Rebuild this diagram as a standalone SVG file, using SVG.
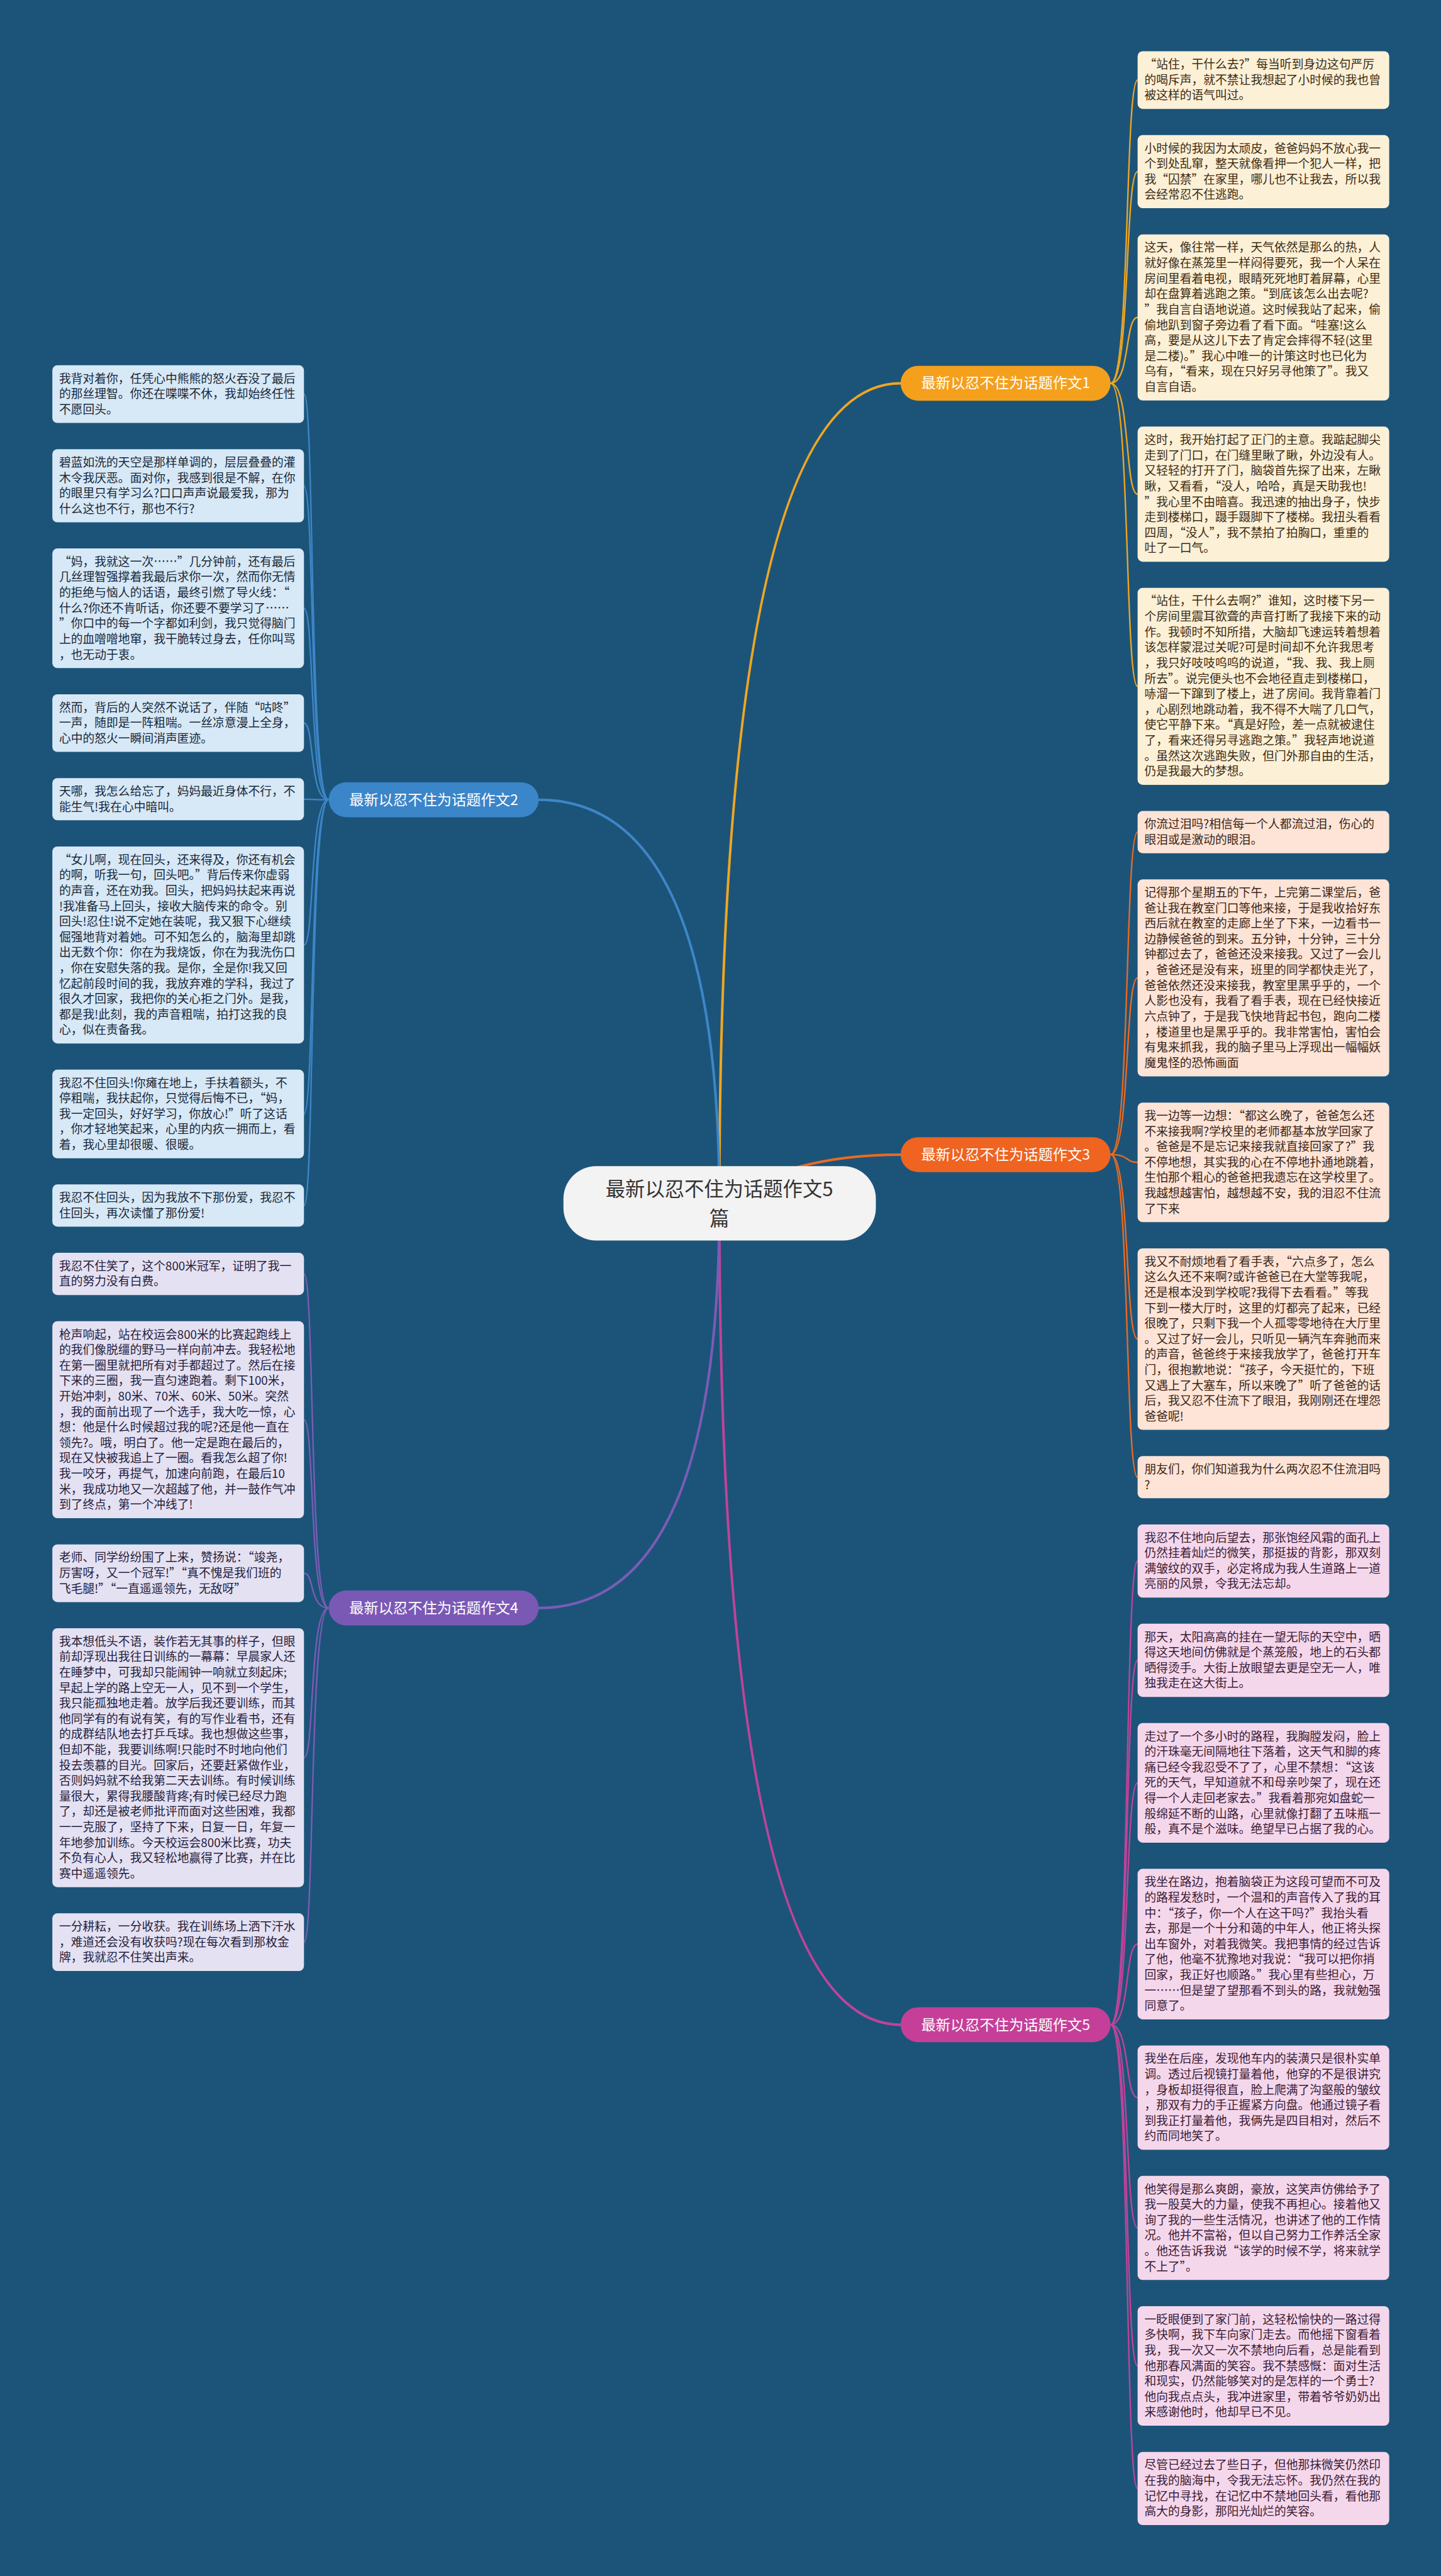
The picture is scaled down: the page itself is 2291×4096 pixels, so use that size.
<svg xmlns="http://www.w3.org/2000/svg" width="2291" height="4096" viewBox="0 0 2291 4096">
<style>
.t{font-family:"Noto Sans CJK SC","Noto Sans",sans-serif;font-size:21px}
.b1 rect{fill:#fcf0d6}.b1 text{fill:#3d2b12}
.b3 rect{fill:#fde4d6}.b3 text{fill:#3b2416}
.b5 rect{fill:#f5d7ec}.b5 text{fill:#3a1b33}
.b2 rect{fill:#d7e8f6}.b2 text{fill:#17283a}
.b4 rect{fill:#e4e1f3}.b4 text{fill:#241d3b}
.pill text{font-family:"Noto Sans CJK SC","Noto Sans",sans-serif;font-size:26px;fill:#ffffff;text-anchor:middle}
.conn path{fill:none;stroke-linecap:round}
.m{stroke-width:4.5}.l{stroke-width:2.6}
.k1{stroke:#f0a623}.k3{stroke:#ec6a22}.k5{stroke:#c0439a}.k2{stroke:#3d86c8}.k4{stroke:#7b5cb6}
</style>
<rect x="0" y="0" width="2291" height="4096" fill="#1c5479"/>
<g transform="scale(0.894922)">
<g id="connectors" class="conn">
<path class="m k1" d="M1278,2138 Q1278,681 1600,681"/>
<path class="m k3" d="M1278,2138 Q1400,2051.5 1600,2051.5"/>
<path class="m k5" d="M1278,2138 Q1278,3597.5 1600,3597.5"/>
<path class="m k2" d="M1278,2138 Q1278,1421 957,1421"/>
<path class="m k4" d="M1278,2138 Q1278,2857 957,2857"/>
<path class="l k1" d="M1973,681 C2008,681 1998,142.25 2021,142.25"/>
<path class="l k1" d="M1973,681 C2008,681 1998,305 2021,305"/>
<path class="l k1" d="M1973,681 C2008,681 1998,564 2021,564"/>
<path class="l k1" d="M1973,681 C2008,681 1998,878 2021,878"/>
<path class="l k1" d="M1973,681 C2008,681 1998,1219.5 2021,1219.5"/>
<path class="l k3" d="M1973,2051.5 C2008,2051.5 1998,1478.5 2021,1478.5"/>
<path class="l k3" d="M1973,2051.5 C2008,2051.5 1998,1737.5 2021,1737.5"/>
<path class="l k3" d="M1973,2051.5 C2008,2051.5 1998,2065.25 2021,2065.25"/>
<path class="l k3" d="M1973,2051.5 C2008,2051.5 1998,2379.25 2021,2379.25"/>
<path class="l k3" d="M1973,2051.5 C2008,2051.5 1998,2624.5 2021,2624.5"/>
<path class="l k5" d="M1973,3597.5 C2008,3597.5 1998,2773.5 2021,2773.5"/>
<path class="l k5" d="M1973,3597.5 C2008,3597.5 1998,2950 2021,2950"/>
<path class="l k5" d="M1973,3597.5 C2008,3597.5 1998,3167.75 2021,3167.75"/>
<path class="l k5" d="M1973,3597.5 C2008,3597.5 1998,3454.25 2021,3454.25"/>
<path class="l k5" d="M1973,3597.5 C2008,3597.5 1998,3727 2021,3727"/>
<path class="l k5" d="M1973,3597.5 C2008,3597.5 1998,3958.5 2021,3958.5"/>
<path class="l k5" d="M1973,3597.5 C2008,3597.5 1998,4203.75 2021,4203.75"/>
<path class="l k5" d="M1973,3597.5 C2008,3597.5 1998,4421.5 2021,4421.5"/>
<path class="l k2" d="M584,1421 C549,1421 559,700.25 540,700.25"/>
<path class="l k2" d="M584,1421 C549,1421 559,863 540,863"/>
<path class="l k2" d="M584,1421 C549,1421 559,1080.75 540,1080.75"/>
<path class="l k2" d="M584,1421 C549,1421 559,1284.75 540,1284.75"/>
<path class="l k2" d="M584,1421 C549,1421 559,1420 540,1420"/>
<path class="l k2" d="M584,1421 C549,1421 559,1679 540,1679"/>
<path class="l k2" d="M584,1421 C549,1421 559,1979.25 540,1979.25"/>
<path class="l k2" d="M584,1421 C549,1421 559,2142 540,2142"/>
<path class="l k4" d="M584,2857 C549,2857 559,2263.5 540,2263.5"/>
<path class="l k4" d="M584,2857 C549,2857 559,2522.5 540,2522.5"/>
<path class="l k4" d="M584,2857 C549,2857 559,2795.25 540,2795.25"/>
<path class="l k4" d="M584,2857 C549,2857 559,3123 540,3123"/>
<path class="l k4" d="M584,2857 C549,2857 559,3450.75 540,3450.75"/>
</g>

<g id="center">
<rect x="1001" y="2072" width="555" height="132" rx="58" fill="#f3f3f3"/>
<text x="1278" y="2125" font-family="Noto Sans CJK SC, Noto Sans, sans-serif" font-size="35" fill="#333333" text-anchor="middle"><tspan x="1278">最新以忍不住为话题作文5</tspan><tspan x="1278" dy="53">篇</tspan></text>
</g>

<g id="branch1" class="pill"><rect x="1600" y="650" width="373" height="62" rx="31" fill="#f5a01c"/><text x="1786.5" y="690">最新以忍不住为话题作文1</text></g>
<g id="branch3" class="pill"><rect x="1600" y="2020.5" width="373" height="62" rx="31" fill="#ef6420"/><text x="1786.5" y="2060.5">最新以忍不住为话题作文3</text></g>
<g id="branch5" class="pill"><rect x="1600" y="3566.5" width="373" height="62" rx="31" fill="#c53f98"/><text x="1786.5" y="3606.5">最新以忍不住为话题作文5</text></g>
<g id="branch2" class="pill"><rect x="584" y="1390" width="373" height="62" rx="31" fill="#3b85c9"/><text x="770.5" y="1430">最新以忍不住为话题作文2</text></g>
<g id="branch4" class="pill"><rect x="584" y="2826" width="373" height="62" rx="31" fill="#7a59b5"/><text x="770.5" y="2866">最新以忍不住为话题作文4</text></g>

<g id="n1a" class="b1"><rect x="2021" y="91" width="447" height="102.5" rx="9"/><text class="t" x="2033" y="122"><tspan x="2033">“站住，干什么去?”每当听到身边这句严厉</tspan><tspan x="2033" dy="27.5">的喝斥声，就不禁让我想起了小时候的我也曾</tspan><tspan x="2033" dy="27.5">被这样的语气叫过。</tspan></text></g>
<g id="n1b" class="b1"><rect x="2021" y="240" width="447" height="130" rx="9"/><text class="t" x="2033" y="271"><tspan x="2033">小时候的我因为太顽皮，爸爸妈妈不放心我一</tspan><tspan x="2033" dy="27.5">个到处乱窜，整天就像看押一个犯人一样，把</tspan><tspan x="2033" dy="27.5">我“囚禁”在家里，哪儿也不让我去，所以我</tspan><tspan x="2033" dy="27.5">会经常忍不住逃跑。</tspan></text></g>
<g id="n1c" class="b1"><rect x="2021" y="416.5" width="447" height="295" rx="9"/><text class="t" x="2033" y="447.5"><tspan x="2033">这天，像往常一样，天气依然是那么的热，人</tspan><tspan x="2033" dy="27.5">就好像在蒸笼里一样闷得要死，我一个人呆在</tspan><tspan x="2033" dy="27.5">房间里看着电视，眼睛死死地盯着屏幕，心里</tspan><tspan x="2033" dy="27.5">却在盘算着逃跑之策。“到底该怎么出去呢?</tspan><tspan x="2033" dy="27.5">”我自言自语地说道。这时候我站了起来，偷</tspan><tspan x="2033" dy="27.5">偷地趴到窗子旁边看了看下面。“哇塞!这么</tspan><tspan x="2033" dy="27.5">高，要是从这儿下去了肯定会摔得不轻(这里</tspan><tspan x="2033" dy="27.5">是二楼)。”我心中唯一的计策这时也已化为</tspan><tspan x="2033" dy="27.5">乌有，“看来，现在只好另寻他策了”。我又</tspan><tspan x="2033" dy="27.5">自言自语。</tspan></text></g>
<g id="n1d" class="b1"><rect x="2021" y="758" width="447" height="240" rx="9"/><text class="t" x="2033" y="789"><tspan x="2033">这时，我开始打起了正门的主意。我踮起脚尖</tspan><tspan x="2033" dy="27.5">走到了门口，在门缝里瞅了瞅，外边没有人。</tspan><tspan x="2033" dy="27.5">又轻轻的打开了门，脑袋首先探了出来，左瞅</tspan><tspan x="2033" dy="27.5">瞅，又看看，“没人，哈哈，真是天助我也!</tspan><tspan x="2033" dy="27.5">”我心里不由暗喜。我迅速的抽出身子，快步</tspan><tspan x="2033" dy="27.5">走到楼梯口，蹑手蹑脚下了楼梯。我扭头看看</tspan><tspan x="2033" dy="27.5">四周，“没人”，我不禁拍了拍胸口，重重的</tspan><tspan x="2033" dy="27.5">吐了一口气。</tspan></text></g>
<g id="n1e" class="b1"><rect x="2021" y="1044.5" width="447" height="350" rx="9"/><text class="t" x="2033" y="1075.5"><tspan x="2033">“站住，干什么去啊?”谁知，这时楼下另一</tspan><tspan x="2033" dy="27.5">个房间里震耳欲聋的声音打断了我接下来的动</tspan><tspan x="2033" dy="27.5">作。我顿时不知所措，大脑却飞速运转着想着</tspan><tspan x="2033" dy="27.5">该怎样蒙混过关呢?可是时间却不允许我思考</tspan><tspan x="2033" dy="27.5">，我只好吱吱呜呜的说道，“我、我、我上厕</tspan><tspan x="2033" dy="27.5">所去”。说完便头也不会地径直走到楼梯口，</tspan><tspan x="2033" dy="27.5">哧溜一下蹿到了楼上，进了房间。我背靠着门</tspan><tspan x="2033" dy="27.5">，心剧烈地跳动着，我不得不大喘了几口气，</tspan><tspan x="2033" dy="27.5">使它平静下来。“真是好险，差一点就被逮住</tspan><tspan x="2033" dy="27.5">了，看来还得另寻逃跑之策。”我轻声地说道</tspan><tspan x="2033" dy="27.5">。虽然这次逃跑失败，但门外那自由的生活，</tspan><tspan x="2033" dy="27.5">仍是我最大的梦想。</tspan></text></g>

<g id="n3a" class="b3"><rect x="2021" y="1441" width="447" height="75" rx="9"/><text class="t" x="2033" y="1472"><tspan x="2033">你流过泪吗?相信每一个人都流过泪，伤心的</tspan><tspan x="2033" dy="27.5">眼泪或是激动的眼泪。</tspan></text></g>
<g id="n3b" class="b3"><rect x="2021" y="1562.5" width="447" height="350" rx="9"/><text class="t" x="2033" y="1593.5"><tspan x="2033">记得那个星期五的下午，上完第二课堂后，爸</tspan><tspan x="2033" dy="27.5">爸让我在教室门口等他来接，于是我收拾好东</tspan><tspan x="2033" dy="27.5">西后就在教室的走廊上坐了下来，一边看书一</tspan><tspan x="2033" dy="27.5">边静候爸爸的到来。五分钟，十分钟，三十分</tspan><tspan x="2033" dy="27.5">钟都过去了，爸爸还没来接我。又过了一会儿</tspan><tspan x="2033" dy="27.5">，爸爸还是没有来，班里的同学都快走光了，</tspan><tspan x="2033" dy="27.5">爸爸依然还没来接我，教室里黑乎乎的，一个</tspan><tspan x="2033" dy="27.5">人影也没有，我看了看手表，现在已经快接近</tspan><tspan x="2033" dy="27.5">六点钟了，于是我飞快地背起书包，跑向二楼</tspan><tspan x="2033" dy="27.5">，楼道里也是黑乎乎的。我非常害怕，害怕会</tspan><tspan x="2033" dy="27.5">有鬼来抓我，我的脑子里马上浮现出一幅幅妖</tspan><tspan x="2033" dy="27.5">魔鬼怪的恐怖画面</tspan></text></g>
<g id="n3c" class="b3"><rect x="2021" y="1959" width="447" height="212.5" rx="9"/><text class="t" x="2033" y="1990"><tspan x="2033">我一边等一边想：“都这么晚了，爸爸怎么还</tspan><tspan x="2033" dy="27.5">不来接我啊?学校里的老师都基本放学回家了</tspan><tspan x="2033" dy="27.5">。爸爸是不是忘记来接我就直接回家了?”我</tspan><tspan x="2033" dy="27.5">不停地想，其实我的心在不停地扑通地跳着，</tspan><tspan x="2033" dy="27.5">生怕那个粗心的爸爸把我遗忘在这学校里了。</tspan><tspan x="2033" dy="27.5">我越想越害怕，越想越不安，我的泪忍不住流</tspan><tspan x="2033" dy="27.5">了下来</tspan></text></g>
<g id="n3d" class="b3"><rect x="2021" y="2218" width="447" height="322.5" rx="9"/><text class="t" x="2033" y="2249"><tspan x="2033">我又不耐烦地看了看手表，“六点多了，怎么</tspan><tspan x="2033" dy="27.5">这么久还不来啊?或许爸爸已在大堂等我呢，</tspan><tspan x="2033" dy="27.5">还是根本没到学校呢?我得下去看看。”等我</tspan><tspan x="2033" dy="27.5">下到一楼大厅时，这里的灯都亮了起来，已经</tspan><tspan x="2033" dy="27.5">很晚了，只剩下我一个人孤零零地待在大厅里</tspan><tspan x="2033" dy="27.5">。又过了好一会儿，只听见一辆汽车奔驰而来</tspan><tspan x="2033" dy="27.5">的声音，爸爸终于来接我放学了，爸爸打开车</tspan><tspan x="2033" dy="27.5">门，很抱歉地说：“孩子，今天挺忙的，下班</tspan><tspan x="2033" dy="27.5">又遇上了大塞车，所以来晚了”听了爸爸的话</tspan><tspan x="2033" dy="27.5">后，我又忍不住流下了眼泪，我刚刚还在埋怨</tspan><tspan x="2033" dy="27.5">爸爸呢!</tspan></text></g>
<g id="n3e" class="b3"><rect x="2021" y="2587" width="447" height="75" rx="9"/><text class="t" x="2033" y="2618"><tspan x="2033">朋友们，你们知道我为什么两次忍不住流泪吗</tspan><tspan x="2033" dy="27.5">?</tspan></text></g>

<g id="n5a" class="b5"><rect x="2021" y="2708.5" width="447" height="130" rx="9"/><text class="t" x="2033" y="2739.5"><tspan x="2033">我忍不住地向后望去，那张饱经风霜的面孔上</tspan><tspan x="2033" dy="27.5">仍然挂着灿烂的微笑，那挺拔的背影，那双刻</tspan><tspan x="2033" dy="27.5">满皱纹的双手，必定将成为我人生道路上一道</tspan><tspan x="2033" dy="27.5">亮丽的风景，令我无法忘却。</tspan></text></g>
<g id="n5b" class="b5"><rect x="2021" y="2885" width="447" height="130" rx="9"/><text class="t" x="2033" y="2916"><tspan x="2033">那天，太阳高高的挂在一望无际的天空中，晒</tspan><tspan x="2033" dy="27.5">得这天地间仿佛就是个蒸笼般，地上的石头都</tspan><tspan x="2033" dy="27.5">晒得烫手。大街上放眼望去更是空无一人，唯</tspan><tspan x="2033" dy="27.5">独我走在这大街上。</tspan></text></g>
<g id="n5c" class="b5"><rect x="2021" y="3061.5" width="447" height="212.5" rx="9"/><text class="t" x="2033" y="3092.5"><tspan x="2033">走过了一个多小时的路程，我胸膛发闷，脸上</tspan><tspan x="2033" dy="27.5">的汗珠毫无间隔地往下落着，这天气和脚的疼</tspan><tspan x="2033" dy="27.5">痛已经令我忍受不了了，心里不禁想：“这该</tspan><tspan x="2033" dy="27.5">死的天气，早知道就不和母亲吵架了，现在还</tspan><tspan x="2033" dy="27.5">得一个人走回老家去。”我看着那宛如盘蛇一</tspan><tspan x="2033" dy="27.5">般绵延不断的山路，心里就像打翻了五味瓶一</tspan><tspan x="2033" dy="27.5">般，真不是个滋味。绝望早已占据了我的心。</tspan></text></g>
<g id="n5d" class="b5"><rect x="2021" y="3320.5" width="447" height="267.5" rx="9"/><text class="t" x="2033" y="3351.5"><tspan x="2033">我坐在路边，抱着脑袋正为这段可望而不可及</tspan><tspan x="2033" dy="27.5">的路程发愁时，一个温和的声音传入了我的耳</tspan><tspan x="2033" dy="27.5">中：“孩子，你一个人在这干吗?”我抬头看</tspan><tspan x="2033" dy="27.5">去，那是一个十分和蔼的中年人，他正将头探</tspan><tspan x="2033" dy="27.5">出车窗外，对着我微笑。我把事情的经过告诉</tspan><tspan x="2033" dy="27.5">了他，他毫不犹豫地对我说：“我可以把你捎</tspan><tspan x="2033" dy="27.5">回家，我正好也顺路。”我心里有些担心，万</tspan><tspan x="2033" dy="27.5">一……但是望了望那看不到头的路，我就勉强</tspan><tspan x="2033" dy="27.5">同意了。</tspan></text></g>
<g id="n5e" class="b5"><rect x="2021" y="3634.5" width="447" height="185" rx="9"/><text class="t" x="2033" y="3665.5"><tspan x="2033">我坐在后座，发现他车内的装潢只是很朴实单</tspan><tspan x="2033" dy="27.5">调。透过后视镜打量着他，他穿的不是很讲究</tspan><tspan x="2033" dy="27.5">，身板却挺得很直，脸上爬满了沟壑般的皱纹</tspan><tspan x="2033" dy="27.5">，那双有力的手正握紧方向盘。他通过镜子看</tspan><tspan x="2033" dy="27.5">到我正打量着他，我俩先是四目相对，然后不</tspan><tspan x="2033" dy="27.5">约而同地笑了。</tspan></text></g>
<g id="n5f" class="b5"><rect x="2021" y="3866" width="447" height="185" rx="9"/><text class="t" x="2033" y="3897"><tspan x="2033">他笑得是那么爽朗，豪放，这笑声仿佛给予了</tspan><tspan x="2033" dy="27.5">我一股莫大的力量，使我不再担心。接着他又</tspan><tspan x="2033" dy="27.5">询了我的一些生活情况，也讲述了他的工作情</tspan><tspan x="2033" dy="27.5">况。他并不富裕，但以自己努力工作养活全家</tspan><tspan x="2033" dy="27.5">。他还告诉我说“该学的时候不学，将来就学</tspan><tspan x="2033" dy="27.5">不上了”。</tspan></text></g>
<g id="n5g" class="b5"><rect x="2021" y="4097.5" width="447" height="212.5" rx="9"/><text class="t" x="2033" y="4128.5"><tspan x="2033">一眨眼便到了家门前，这轻松愉快的一路过得</tspan><tspan x="2033" dy="27.5">多快啊，我下车向家门走去。而他摇下窗看着</tspan><tspan x="2033" dy="27.5">我，我一次又一次不禁地向后看，总是能看到</tspan><tspan x="2033" dy="27.5">他那春风满面的笑容。我不禁感慨：面对生活</tspan><tspan x="2033" dy="27.5">和现实，仍然能够笑对的是怎样的一个勇士?</tspan><tspan x="2033" dy="27.5">他向我点点头，我冲进家里，带着爷爷奶奶出</tspan><tspan x="2033" dy="27.5">来感谢他时，他却早已不见。</tspan></text></g>
<g id="n5h" class="b5"><rect x="2021" y="4356.5" width="447" height="130" rx="9"/><text class="t" x="2033" y="4387.5"><tspan x="2033">尽管已经过去了些日子，但他那抹微笑仍然印</tspan><tspan x="2033" dy="27.5">在我的脑海中，令我无法忘怀。我仍然在我的</tspan><tspan x="2033" dy="27.5">记忆中寻找，在记忆中不禁地回头看，看他那</tspan><tspan x="2033" dy="27.5">高大的身影，那阳光灿烂的笑容。</tspan></text></g>

<g id="n2a" class="b2"><rect x="93" y="649" width="447" height="102.5" rx="9"/><text class="t" x="105" y="680"><tspan x="105">我背对着你，任凭心中熊熊的怒火吞没了最后</tspan><tspan x="105" dy="27.5">的那丝理智。你还在喋喋不休，我却始终任性</tspan><tspan x="105" dy="27.5">不愿回头。</tspan></text></g>
<g id="n2b" class="b2"><rect x="93" y="798" width="447" height="130" rx="9"/><text class="t" x="105" y="829"><tspan x="105">碧蓝如洗的天空是那样单调的，层层叠叠的灌</tspan><tspan x="105" dy="27.5">木令我厌恶。面对你，我感到很是不解，在你</tspan><tspan x="105" dy="27.5">的眼里只有学习么?口口声声说最爱我，那为</tspan><tspan x="105" dy="27.5">什么这也不行，那也不行?</tspan></text></g>
<g id="n2c" class="b2"><rect x="93" y="974.5" width="447" height="212.5" rx="9"/><text class="t" x="105" y="1005.5"><tspan x="105">“妈，我就这一次……”几分钟前，还有最后</tspan><tspan x="105" dy="27.5">几丝理智强撑着我最后求你一次，然而你无情</tspan><tspan x="105" dy="27.5">的拒绝与恼人的话语，最终引燃了导火线：“</tspan><tspan x="105" dy="27.5">什么?你还不肯听话，你还要不要学习了……</tspan><tspan x="105" dy="27.5">”你口中的每一个字都如利剑，我只觉得脑门</tspan><tspan x="105" dy="27.5">上的血噌噌地窜，我干脆转过身去，任你叫骂</tspan><tspan x="105" dy="27.5">，也无动于衷。</tspan></text></g>
<g id="n2d" class="b2"><rect x="93" y="1233.5" width="447" height="102.5" rx="9"/><text class="t" x="105" y="1264.5"><tspan x="105">然而，背后的人突然不说话了，伴随“咕咚”</tspan><tspan x="105" dy="27.5">一声，随即是一阵粗喘。一丝凉意漫上全身，</tspan><tspan x="105" dy="27.5">心中的怒火一瞬间消声匿迹。</tspan></text></g>
<g id="n2e" class="b2"><rect x="93" y="1382.5" width="447" height="75" rx="9"/><text class="t" x="105" y="1413.5"><tspan x="105">天哪，我怎么给忘了，妈妈最近身体不行，不</tspan><tspan x="105" dy="27.5">能生气!我在心中暗叫。</tspan></text></g>
<g id="n2f" class="b2"><rect x="93" y="1504" width="447" height="350" rx="9"/><text class="t" x="105" y="1535"><tspan x="105">“女儿啊，现在回头，还来得及，你还有机会</tspan><tspan x="105" dy="27.5">的啊，听我一句，回头吧。”背后传来你虚弱</tspan><tspan x="105" dy="27.5">的声音，还在劝我。回头，把妈妈扶起来再说</tspan><tspan x="105" dy="27.5">!我准备马上回头，接收大脑传来的命令。别</tspan><tspan x="105" dy="27.5">回头!忍住!说不定她在装呢，我又狠下心继续</tspan><tspan x="105" dy="27.5">倔强地背对着她。可不知怎么的，脑海里却跳</tspan><tspan x="105" dy="27.5">出无数个你：你在为我烧饭，你在为我洗伤口</tspan><tspan x="105" dy="27.5">，你在安慰失落的我。是你，全是你!我又回</tspan><tspan x="105" dy="27.5">忆起前段时间的我，我放弃难的学科，我过了</tspan><tspan x="105" dy="27.5">很久才回家，我把你的关心拒之门外。是我，</tspan><tspan x="105" dy="27.5">都是我!此刻，我的声音粗喘，拍打这我的良</tspan><tspan x="105" dy="27.5">心，似在责备我。</tspan></text></g>
<g id="n2g" class="b2"><rect x="93" y="1900.5" width="447" height="157.5" rx="9"/><text class="t" x="105" y="1931.5"><tspan x="105">我忍不住回头!你瘫在地上，手扶着额头，不</tspan><tspan x="105" dy="27.5">停粗喘，我扶起你，只觉得后悔不已，“妈，</tspan><tspan x="105" dy="27.5">我一定回头，好好学习，你放心!”听了这话</tspan><tspan x="105" dy="27.5">，你才轻地笑起来，心里的内疚一拥而上，看</tspan><tspan x="105" dy="27.5">着，我心里却很暖、很暖。</tspan></text></g>
<g id="n2h" class="b2"><rect x="93" y="2104.5" width="447" height="75" rx="9"/><text class="t" x="105" y="2135.5"><tspan x="105">我忍不住回头，因为我放不下那份爱，我忍不</tspan><tspan x="105" dy="27.5">住回头，再次读懂了那份爱!</tspan></text></g>

<g id="n4a" class="b4"><rect x="93" y="2226" width="447" height="75" rx="9"/><text class="t" x="105" y="2257"><tspan x="105">我忍不住笑了，这个800米冠军，证明了我一</tspan><tspan x="105" dy="27.5">直的努力没有白费。</tspan></text></g>
<g id="n4b" class="b4"><rect x="93" y="2347.5" width="447" height="350" rx="9"/><text class="t" x="105" y="2378.5"><tspan x="105">枪声响起，站在校运会800米的比赛起跑线上</tspan><tspan x="105" dy="27.5">的我们像脱缰的野马一样向前冲去。我轻松地</tspan><tspan x="105" dy="27.5">在第一圈里就把所有对手都超过了。然后在接</tspan><tspan x="105" dy="27.5">下来的三圈，我一直匀速跑着。剩下100米，</tspan><tspan x="105" dy="27.5">开始冲刺，80米、70米、60米、50米。突然</tspan><tspan x="105" dy="27.5">，我的面前出现了一个选手，我大吃一惊，心</tspan><tspan x="105" dy="27.5">想：他是什么时候超过我的呢?还是他一直在</tspan><tspan x="105" dy="27.5">领先?。哦，明白了。他一定是跑在最后的，</tspan><tspan x="105" dy="27.5">现在又快被我追上了一圈。看我怎么超了你!</tspan><tspan x="105" dy="27.5">我一咬牙，再提气，加速向前跑，在最后10</tspan><tspan x="105" dy="27.5">米，我成功地又一次超越了他，并一鼓作气冲</tspan><tspan x="105" dy="27.5">到了终点，第一个冲线了!</tspan></text></g>
<g id="n4c" class="b4"><rect x="93" y="2744" width="447" height="102.5" rx="9"/><text class="t" x="105" y="2775"><tspan x="105">老师、同学纷纷围了上来，赞扬说：“竣尧，</tspan><tspan x="105" dy="27.5">厉害呀，又一个冠军!”“真不愧是我们班的</tspan><tspan x="105" dy="27.5">飞毛腿!”“一直遥遥领先，无敌呀”</tspan></text></g>
<g id="n4d" class="b4"><rect x="93" y="2893" width="447" height="460" rx="9"/><text class="t" x="105" y="2924"><tspan x="105">我本想低头不语，装作若无其事的样子，但眼</tspan><tspan x="105" dy="27.5">前却浮现出我往日训练的一幕幕：早晨家人还</tspan><tspan x="105" dy="27.5">在睡梦中，可我却只能闹钟一响就立刻起床;</tspan><tspan x="105" dy="27.5">早起上学的路上空无一人，见不到一个学生，</tspan><tspan x="105" dy="27.5">我只能孤独地走着。放学后我还要训练，而其</tspan><tspan x="105" dy="27.5">他同学有的有说有笑，有的写作业看书，还有</tspan><tspan x="105" dy="27.5">的成群结队地去打乒乓球。我也想做这些事，</tspan><tspan x="105" dy="27.5">但却不能，我要训练啊!只能时不时地向他们</tspan><tspan x="105" dy="27.5">投去羡慕的目光。回家后，还要赶紧做作业，</tspan><tspan x="105" dy="27.5">否则妈妈就不给我第二天去训练。有时候训练</tspan><tspan x="105" dy="27.5">量很大，累得我腰酸背疼;有时候已经尽力跑</tspan><tspan x="105" dy="27.5">了，却还是被老师批评而面对这些困难，我都</tspan><tspan x="105" dy="27.5">一一克服了，坚持了下来，日复一日，年复一</tspan><tspan x="105" dy="27.5">年地参加训练。今天校运会800米比赛，功夫</tspan><tspan x="105" dy="27.5">不负有心人，我又轻松地赢得了比赛，并在比</tspan><tspan x="105" dy="27.5">赛中遥遥领先。</tspan></text></g>
<g id="n4e" class="b4"><rect x="93" y="3399.5" width="447" height="102.5" rx="9"/><text class="t" x="105" y="3430.5"><tspan x="105">一分耕耘，一分收获。我在训练场上洒下汗水</tspan><tspan x="105" dy="27.5">，难道还会没有收获吗?现在每次看到那枚金</tspan><tspan x="105" dy="27.5">牌，我就忍不住笑出声来。</tspan></text></g>
</g>
</svg>
